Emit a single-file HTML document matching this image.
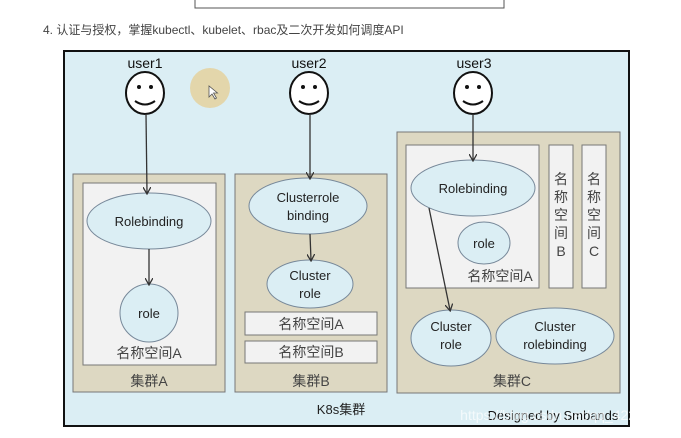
<!DOCTYPE html>
<html><head><meta charset="utf-8"><style>
body{margin:0;background:#fff;}
svg{display:block;font-family:"Liberation Sans","Noto Sans CJK SC",sans-serif;}
</style></head><body>
<svg width="681" height="438" viewBox="0 0 681 438">
<defs><marker id="a" markerWidth="8" markerHeight="8" refX="6" refY="4" orient="auto" markerUnits="userSpaceOnUse"><path d="M0,0 L7,4 L0,8" fill="none" stroke="#333" stroke-width="1.3"/></marker></defs>
<path d="M195,0 V8 H504 V0" fill="none" stroke="#555" stroke-width="1"/>
<text x="43" y="34" font-size="12" fill="#444">4. 认证与授权，掌握kubectl、kubelet、rbac及二次开发如何调度API</text>
<rect x="64" y="51" width="565" height="375" fill="#dbeef4" stroke="#111" stroke-width="2"/>
<circle cx="210" cy="88" r="20" fill="#e3d6ab"/>
<path d="M209,86 v11 l3,-3 l3,5 l1.5,-1 l-3,-5 h4 z" fill="#fff" stroke="#555" stroke-width="0.8"/>
<g font-size="14" fill="#111" text-anchor="middle">
<text x="145" y="68">user1</text><text x="309" y="68">user2</text><text x="474" y="68">user3</text></g>
<g fill="#fff" stroke="#111" stroke-width="2">
<ellipse cx="145" cy="93" rx="19" ry="21"/><ellipse cx="309" cy="93" rx="19" ry="21"/><ellipse cx="473" cy="93" rx="19" ry="21"/></g>
<g fill="#111"><circle cx="139" cy="87" r="2"/><circle cx="151" cy="87" r="2"/><circle cx="303" cy="87" r="2"/><circle cx="315" cy="87" r="2"/><circle cx="467" cy="87" r="2"/><circle cx="479" cy="87" r="2"/></g>
<g fill="none" stroke="#111" stroke-width="2"><path d="M135,101 q10,7 20,0"/><path d="M299,101 q10,7 20,0"/><path d="M463,101 q10,7 20,0"/></g>
<g fill="#ddd8c2" stroke="#777" stroke-width="1">
<rect x="73" y="174" width="152" height="218"/><rect x="235" y="174" width="152" height="218"/><rect x="397" y="132" width="223" height="261"/></g>
<g fill="#f2f2f2" stroke="#777" stroke-width="1">
<rect x="83" y="183" width="133" height="182"/><rect x="245" y="312" width="132" height="23"/><rect x="245" y="341" width="132" height="22"/>
<rect x="406" y="145" width="133" height="143"/><rect x="549" y="145" width="24" height="143"/><rect x="582" y="145" width="24" height="143"/></g>
<g fill="#dbeef4" stroke="#789" stroke-width="1">
<ellipse cx="149" cy="221" rx="62" ry="28"/><circle cx="149" cy="313" r="29"/>
<ellipse cx="308" cy="206" rx="59" ry="28"/><ellipse cx="310" cy="284" rx="43" ry="24"/>
<ellipse cx="473" cy="188" rx="62" ry="28"/><ellipse cx="484" cy="243" rx="26" ry="21"/>
<ellipse cx="451" cy="338" rx="40" ry="28"/><ellipse cx="555" cy="336" rx="59" ry="28"/></g>
<g stroke="#333" stroke-width="1.3" fill="none" marker-end="url(#a)">
<line x1="146" y1="114" x2="147" y2="193"/><line x1="310" y1="114" x2="310" y2="178"/><line x1="473" y1="114" x2="473" y2="160"/>
<line x1="149" y1="249" x2="149" y2="284"/><line x1="310" y1="234" x2="311" y2="260"/><line x1="429" y1="208" x2="450" y2="310"/></g>
<g font-size="13" fill="#222" text-anchor="middle">
<text x="149" y="226">Rolebinding</text><text x="149" y="318">role</text>
<text x="308" y="202">Clusterrole</text><text x="308" y="220">binding</text>
<text x="310" y="280">Cluster</text><text x="310" y="298">role</text>
<text x="473" y="193">Rolebinding</text><text x="484" y="248">role</text>
<text x="451" y="331">Cluster</text><text x="451" y="349">role</text>
<text x="555" y="331">Cluster</text><text x="555" y="349">rolebinding</text>
</g>
<g font-size="14" fill="#444" text-anchor="middle">
<text x="149" y="358">名称空间A</text><text x="149" y="386">集群A</text>
<text x="311" y="329">名称空间A</text><text x="311" y="357">名称空间B</text><text x="311" y="386">集群B</text>
<text x="500" y="281">名称空间A</text><text x="512" y="386">集群C</text>
<text x="561" y="184">名</text><text x="561" y="202">称</text><text x="561" y="220">空</text><text x="561" y="238">间</text><text x="561" y="256">B</text>
<text x="594" y="184">名</text><text x="594" y="202">称</text><text x="594" y="220">空</text><text x="594" y="238">间</text><text x="594" y="256">C</text>
</g>
<text x="341" y="414" font-size="13" fill="#222" text-anchor="middle">K8s集群</text>
<text x="553" y="420" font-size="13" fill="#111" text-anchor="middle">Designed by Smbands</text>
<text x="675" y="420" font-size="14" fill="#fff" fill-opacity="0.7" text-anchor="end">https://blog.csdn.net/qq_42227818</text>
</svg>
</body></html>
